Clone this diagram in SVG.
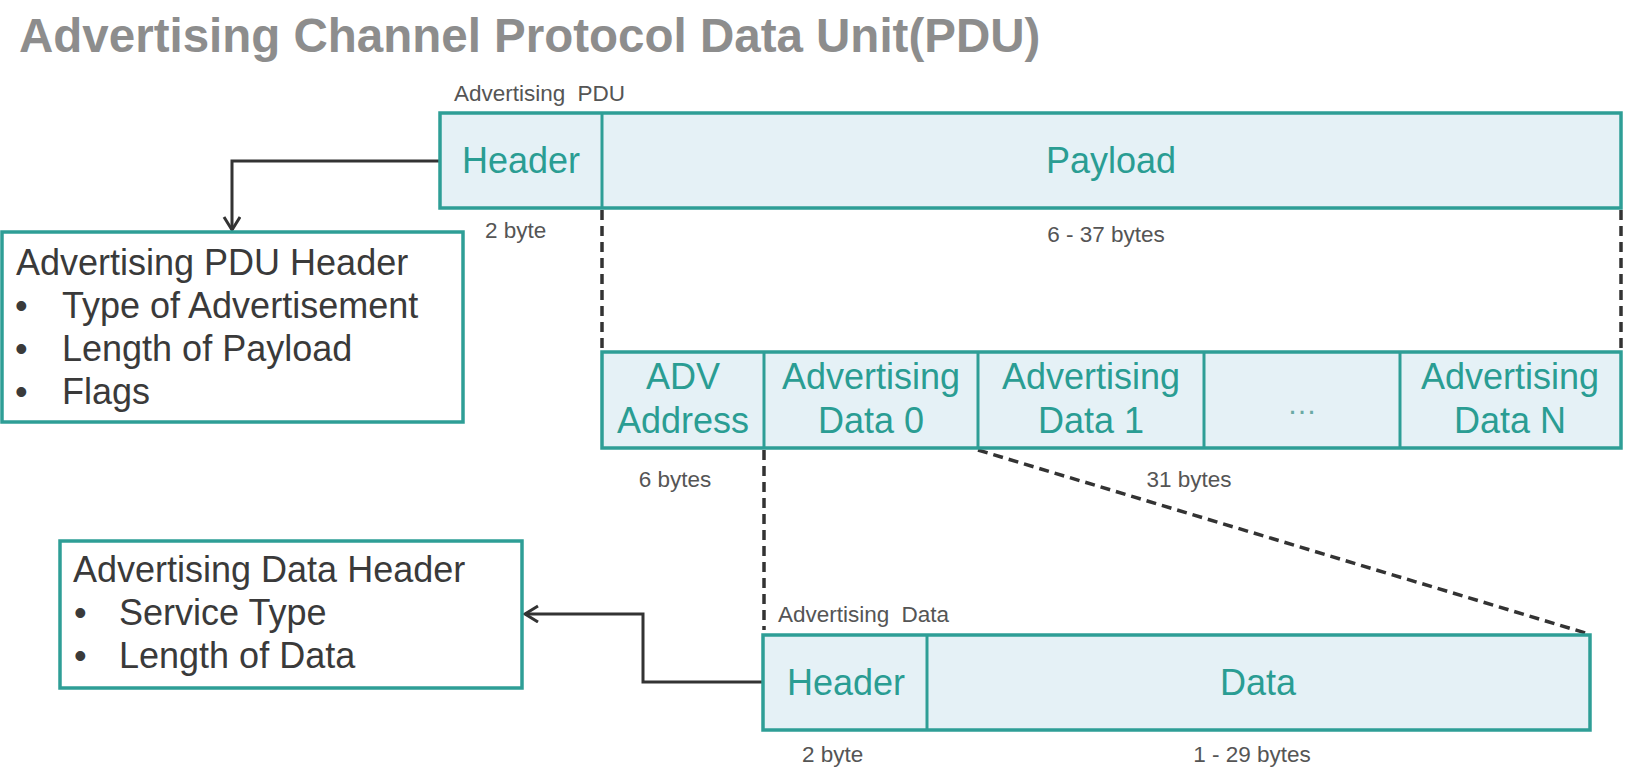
<svg xmlns="http://www.w3.org/2000/svg" width="1636" height="778" viewBox="0 0 1636 778">
<style>
.title{font-family:"Liberation Sans",Arial,sans-serif;font-weight:bold;font-size:47.5px;fill:#8d8d8d}
.cell{fill:#e5f1f6;stroke:#2e9e96;stroke-width:3.5}
.div{stroke:#2e9e96;stroke-width:3}
.ct{font-family:"Liberation Sans",Arial,sans-serif;font-size:36px;fill:#2a9d93;text-anchor:middle}
.sm{font-family:"Liberation Sans",Arial,sans-serif;font-size:22.5px;fill:#555}
.smc{text-anchor:middle}
.note{fill:#fff;stroke:#2e9e96;stroke-width:3.5}
.nt{font-family:"Liberation Sans",Arial,sans-serif;font-size:36px;fill:#3a3a3a}
.conn{fill:none;stroke:#333;stroke-width:3}
.dash{fill:none;stroke:#333;stroke-width:3.5;stroke-dasharray:10 6}
</style>
<defs>
<marker id="arr" markerUnits="userSpaceOnUse" markerWidth="20" markerHeight="20" refX="14" refY="9" orient="auto">
<path d="M1,1 L14,9 L1,17" fill="none" stroke="#333" stroke-width="3"/>
</marker>
</defs>
<rect width="1636" height="778" fill="#fff"/>
<text class="title" x="19" y="52">Advertising Channel Protocol Data Unit(PDU)</text>

<g id="connectors">
<path class="conn" d="M440,161 H232 V230" marker-end="url(#arr)"/>
<path class="conn" d="M763,682 H643 V614 H525" marker-end="url(#arr)"/>
<path class="dash" d="M602,210 V351"/>
<path class="dash" d="M1621,210 V351"/>
<path class="dash" d="M764,450 V630"/>
<path class="dash" d="M978,450 L1589,634"/>
</g>

<g id="advertising-pdu">
<text class="sm" x="454" y="101" style="word-spacing:6px">Advertising PDU</text>
<rect class="cell" x="440" y="113" width="1181" height="95"/>
<line class="div" x1="602" y1="113" x2="602" y2="208"/>
<text class="ct" x="521" y="173">Header</text>
<text class="ct" x="1111" y="173">Payload</text>
<text class="sm" x="485" y="238">2 byte</text>
<text class="sm smc" x="1106" y="242">6 - 37 bytes</text>
</g>

<g id="payload-fields">
<rect class="cell" x="602" y="352" width="1019" height="96"/>
<line class="div" x1="764" y1="352" x2="764" y2="448"/>
<line class="div" x1="978" y1="352" x2="978" y2="448"/>
<line class="div" x1="1204" y1="352" x2="1204" y2="448"/>
<line class="div" x1="1400" y1="352" x2="1400" y2="448"/>
<text class="ct" x="683" y="389">ADV</text>
<text class="ct" x="683" y="433">Address</text>
<text class="ct" x="871" y="389">Advertising</text>
<text class="ct" x="871" y="433">Data 0</text>
<text class="ct" x="1091" y="389">Advertising</text>
<text class="ct" x="1091" y="433">Data 1</text>
<text class="ct" x="1302" y="414" style="font-size:30px;fill:#6aa9a4">…</text>
<text class="ct" x="1510" y="389">Advertising</text>
<text class="ct" x="1510" y="433">Data N</text>
<text class="sm smc" x="675" y="487">6 bytes</text>
<text class="sm smc" x="1189" y="487">31 bytes</text>
</g>

<g id="advertising-data">
<text class="sm" x="778" y="622" style="word-spacing:6px">Advertising Data</text>
<rect class="cell" x="763" y="635" width="827" height="95"/>
<line class="div" x1="927" y1="635" x2="927" y2="730"/>
<text class="ct" x="846" y="695">Header</text>
<text class="ct" x="1258" y="695">Data</text>
<text class="sm" x="802" y="762">2 byte</text>
<text class="sm smc" x="1252" y="762">1 - 29 bytes</text>
</g>

<g id="pdu-header-note">
<rect class="note" x="2" y="232" width="461" height="190"/>
<text class="nt" x="16" y="275">Advertising PDU Header</text>
<text class="nt" x="15" y="318">•</text>
<text class="nt" x="62" y="318">Type of Advertisement</text>
<text class="nt" x="15" y="361">•</text>
<text class="nt" x="62" y="361">Length of Payload</text>
<text class="nt" x="15" y="404">•</text>
<text class="nt" x="62" y="404">Flags</text>
</g>

<g id="data-header-note">
<rect class="note" x="60" y="541" width="462" height="147"/>
<text class="nt" x="73" y="582">Advertising Data Header</text>
<text class="nt" x="74" y="625">•</text>
<text class="nt" x="119" y="625">Service Type</text>
<text class="nt" x="74" y="668">•</text>
<text class="nt" x="119" y="668">Length of Data</text>
</g>
</svg>
